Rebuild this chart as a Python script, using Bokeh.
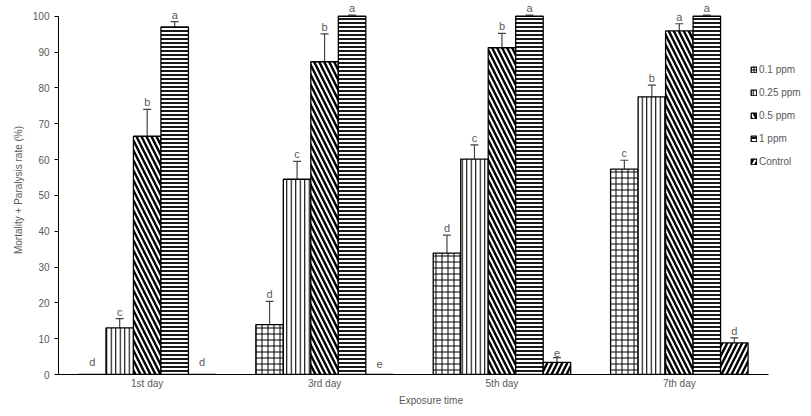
from bokeh.plotting import figure
from bokeh.models import ColumnDataSource, Whisker, TeeHead, Legend, LegendItem, Range1d, FixedTicker
from bokeh.core.properties import value
from bokeh.embed import file_html
from bokeh.resources import INLINE

days = ["1st day", "3rd day", "5th day", "7th day"]
series = ["0.1 ppm", "0.25 ppm", "0.5 ppm", "1 ppm", "Control"]

v_01 = [0, 13.9, 33.9, 57.3]
v_025 = [13, 54.5, 60.1, 77.5]
v_05 = [66.5, 87.3, 91.2, 95.9]
v_1 = [97, 100, 100, 100]
v_ctrl = [0, 0, 3.4, 8.8]

e_01 = [0, 6.5, 5, 2.5]
e_025 = [2.6, 5, 4, 3.3]
e_05 = [7.5, 7.8, 4, 2]
e_1 = [1.5, 0.3, 0.3, 0.3]
e_ctrl = [0, 0, 1.3, 1.4]

l_01 = ["d", "d", "d", "c"]
l_025 = ["c", "c", "c", "b"]
l_05 = ["b", "b", "b", "a"]
l_1 = ["a", "a", "a", "a"]
l_ctrl = ["d", "e", "e", "d"]

yticks = [0, 10, 20, 30, 40, 50, 60, 70, 80, 90, 100]

vals = [v_01, v_025, v_05, v_1, v_ctrl]
errs = [e_01, e_025, e_05, e_1, e_ctrl]
lets = [l_01, l_025, l_05, l_1, l_ctrl]

centers = [i + 0.5 for i in range(len(days))]
offsets = [-0.31, -0.155, 0.0, 0.155, 0.31]
bw = 0.155
hatches = [
    dict(hatch_pattern="cross", hatch_scale=6, hatch_weight=1.0),
    dict(hatch_pattern="vertical_line", hatch_scale=4.5, hatch_weight=1.1),
    dict(hatch_pattern="left_diagonal_line", hatch_scale=10, hatch_weight=2.4),
    dict(hatch_pattern="horizontal_line", hatch_scale=4, hatch_weight=1.8),
    dict(hatch_pattern="right_diagonal_line", hatch_scale=10, hatch_weight=2.4),
]

TXT = "#595959"
FONT = "Liberation Sans"

p = figure(width=803, height=408, x_range=Range1d(0, 4.2), y_range=Range1d(0, 103),
           output_backend="svg", toolbar_location=None,
           min_border_left=58, min_border_right=0, min_border_top=5, min_border_bottom=33)
p.outline_line_color = None
p.grid.grid_line_color = None

items = []
for i, name in enumerate(series):
    ys = vals[i]
    es = errs[i]
    xs = [c + offsets[i] for c in centers]
    src = ColumnDataSource(dict(
        x=xs, v=ys, lo=[a - b for a, b in zip(ys, es)], hi=[a + b for a, b in zip(ys, es)],
        lab=lets[i], yoff=[-7 if a == 0 else -1 for a in ys],
    ))
    r = p.vbar(x="x", top="v", width=bw, source=src,
               fill_color="white", line_color="black", line_width=1.3,
               hatch_color="black", **hatches[i])
    items.append(LegendItem(label=name, renderers=[r]))
    w = Whisker(base="x", upper="hi", lower="lo", source=src,
                line_color="#444444", line_width=1.2,
                upper_head=TeeHead(size=8, line_color="#444444", line_width=1.2),
                lower_head=TeeHead(size=8, line_color="#444444", line_width=1.0))
    p.add_layout(w)
    p.text(x="x", y="hi", text="lab", source=src,
           y_offset="yoff", text_align="center", text_baseline="bottom",
           text_font=value(FONT), text_font_size="11px", text_color=TXT)

leg = Legend(items=items, location=(692, 207), orientation="vertical",
             glyph_width=7, glyph_height=7, label_height=12, spacing=11,
             label_text_font=FONT, label_text_font_size="10px", label_text_color=TXT,
             label_standoff=2, padding=0, margin=0, border_line_color=None,
             background_fill_alpha=0)
p.add_layout(leg)

p.yaxis.ticker = FixedTicker(ticks=yticks)
p.yaxis.bounds = (0, 100)
p.yaxis.axis_line_color = "black"
p.yaxis.major_tick_line_color = "black"
p.yaxis.major_tick_out = 4
p.yaxis.major_tick_in = 0
p.yaxis.minor_tick_line_color = None
p.yaxis.major_label_text_font = FONT
p.yaxis.major_label_text_font_size = "10px"
p.yaxis.major_label_text_color = TXT
p.yaxis.major_label_standoff = 5
p.yaxis.axis_label = "Mortality + Paralysis rate (%)"
p.yaxis.axis_label_text_font = FONT
p.yaxis.axis_label_text_font_size = "10px"
p.yaxis.axis_label_text_font_style = "normal"
p.yaxis.axis_label_text_color = TXT
p.yaxis.axis_label_standoff = 6

p.xaxis.ticker = FixedTicker(ticks=centers)
p.xaxis.major_label_overrides = {c: d for c, d in zip(centers, days)}
p.xaxis.bounds = (0, len(days))
p.xaxis.axis_line_color = "black"
p.xaxis.major_tick_line_color = None
p.xaxis.major_tick_out = 0
p.xaxis.major_tick_in = 0
p.xaxis.minor_tick_line_color = None
p.xaxis.minor_tick_out = 0
p.xaxis.major_label_text_font = FONT
p.xaxis.major_label_text_font_size = "10px"
p.xaxis.major_label_text_color = TXT
p.xaxis.major_label_standoff = 3
p.xaxis.axis_label = "Exposure time"
p.xaxis.axis_label_text_font = FONT
p.xaxis.axis_label_text_font_size = "10px"
p.xaxis.axis_label_text_font_style = "normal"
p.xaxis.axis_label_text_color = TXT
p.xaxis.axis_label_standoff = 3

open("out.html", "w").write(file_html(p, INLINE))
